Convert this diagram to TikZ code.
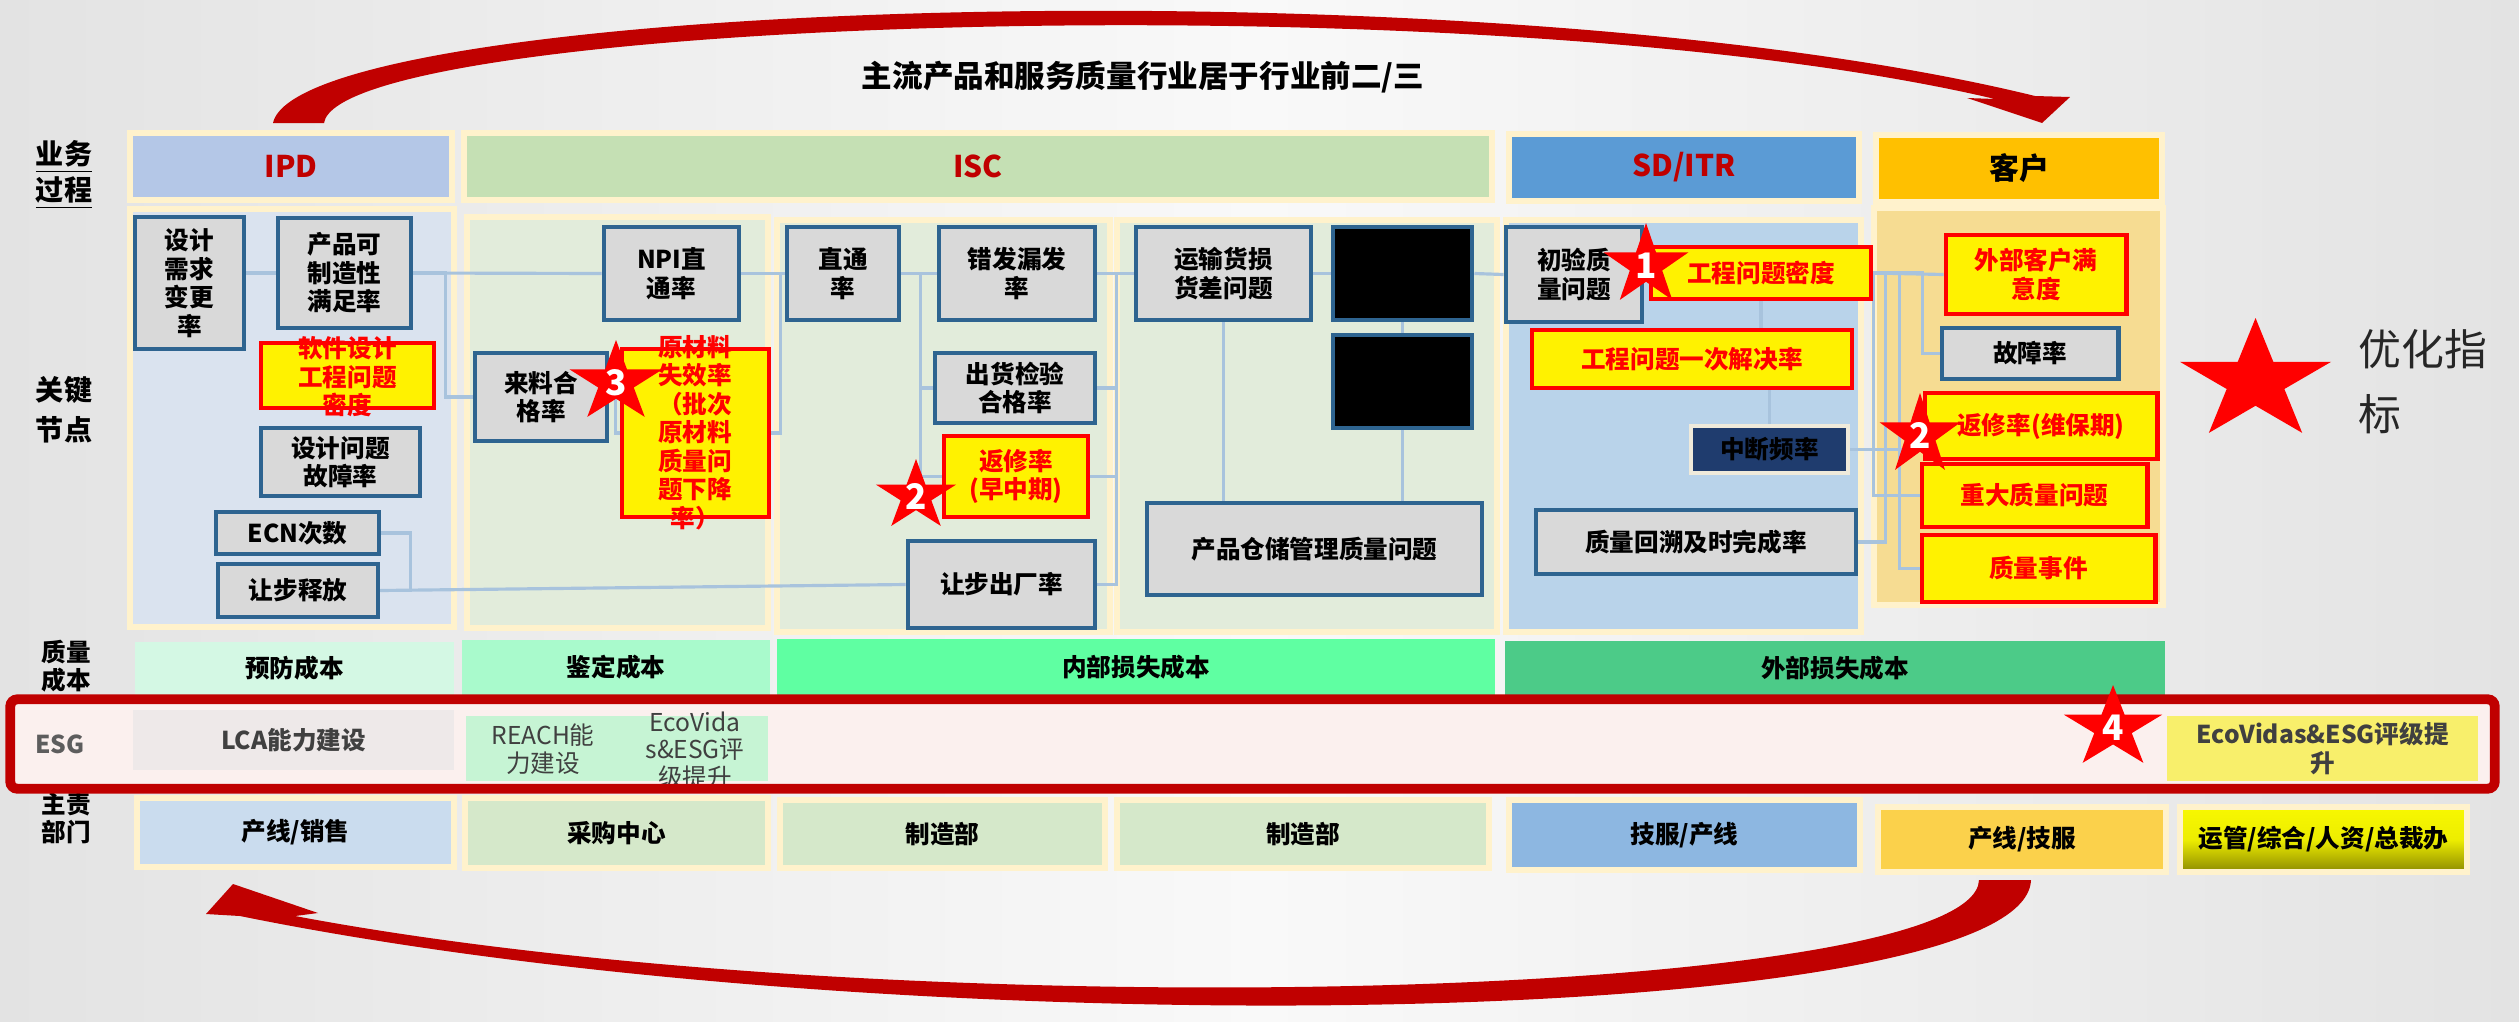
\documentclass[tikz,border=0pt]{standalone}
\usepackage{fontspec}
\setmainfont{Noto Sans CJK SC}
\usetikzlibrary{shapes.geometric}
\definecolor{cream}{HTML}{FFF2CC}
\definecolor{hdrred}{HTML}{C00000}
\definecolor{ipdblue}{HTML}{B4C7E7}
\definecolor{iscgreen}{HTML}{C5E0B4}
\definecolor{sdblue}{HTML}{5B9BD5}
\definecolor{custorange}{HTML}{FFC000}
\definecolor{ipdpanel}{HTML}{DAE3EF}
\definecolor{iscpanel}{HTML}{E2ECDB}
\definecolor{sdpanel}{HTML}{B9D3EA}
\definecolor{custpanel}{HTML}{F6DC92}
\definecolor{boxgray}{HTML}{D9D9D9}
\definecolor{boxedge}{HTML}{2E6490}
\definecolor{wireblue}{HTML}{A8C3DD}
\definecolor{navybox}{HTML}{1F3C6E}
\definecolor{navyedge}{HTML}{EFEADB}
\definecolor{costA}{HTML}{D4F8E4}
\definecolor{costB}{HTML}{A9FACC}
\definecolor{costC}{HTML}{5FFFA2}
\definecolor{costD}{HTML}{4CCB88}
\definecolor{esgred}{HTML}{C00000}
\definecolor{esgpink}{HTML}{FBF0EE}
\definecolor{lcagray}{HTML}{EEE9E9}
\definecolor{reachgreen}{HTML}{C6F4D4}
\definecolor{ecoyellow}{HTML}{F8EF6B}
\definecolor{esgtext}{HTML}{404040}
\definecolor{deptA}{HTML}{CADCEE}
\definecolor{deptB}{HTML}{D5E8CA}
\definecolor{deptC}{HTML}{8DB7E1}
\definecolor{deptD}{HTML}{FBD14B}
\definecolor{opsTop}{HTML}{F8F800}
\definecolor{opsBot}{HTML}{8C8B00}
\definecolor{arcred}{HTML}{C00000}
\definecolor{bgside}{HTML}{E3E3E3}
\definecolor{bgmid}{HTML}{F9F9F9}
\definecolor{legendgray}{HTML}{262626}
\newcommand{\boxfont}{\fontsize{7}{8.1}\selectfont\bfseries}
\newcommand{\hdrfont}{\fontsize{8.5}{10}\selectfont\bfseries}
\pgfdeclarelayer{back}
\pgfdeclarelayer{wires}
\pgfsetlayers{back,wires,main}

\begin{document}
\begin{tikzpicture}[
    x=0.1mm, y=-0.1mm,
    sz/.style 2 args={minimum width=#1*0.1mm, minimum height=#2*0.1mm},
    hdr/.style={draw=cream, line width=1.6pt, inner sep=0, font=\hdrfont},
    pnl/.style={draw=cream, line width=1.6pt, inner sep=0},
    gbox/.style={draw=boxedge, fill=boxgray, line width=1.4pt, inner sep=0, align=center, font=\boxfont},
    ybox/.style={draw=red, fill=yellow, line width=1.4pt, inner sep=0, align=center, text=red, font=\boxfont},
    ytext/.style={inner sep=0, align=center, text=red, font=\boxfont},
    cost/.style={inner sep=0, font=\boxfont},
    dept/.style={draw=cream, line width=1.6pt, inner sep=0, font=\boxfont},
    rowlbl/.style={inner sep=0, align=center, font=\fontsize{7}{8}\selectfont\bfseries},
    esgtxt/.style={inner sep=0, align=center, text=esgtext, font=\fontsize{7}{7.9}\selectfont},
    wire/.style={draw=wireblue, line width=0.9pt},
    rstar/.style={star, star points=5, star point ratio=2.618, fill=red, inner sep=0, minimum size=#1*0.1mm},
    stnum/.style={inner sep=0, text=white, font=\fontsize{10}{10}\selectfont\bfseries},
    swoosh/.style={fill=arcred}
]
\useasboundingbox (0,0) rectangle (2519,1021);

\begin{pgfonlayer}{back}
% background and lanes
\shade[left color=bgside, right color=bgside, middle color=bgmid] (0,0) rectangle (2519,1021);
\node[pnl, fill=ipdpanel, sz={324}{418}] (pIPD) at (292,418) {};
\node[pnl, fill=iscpanel, sz={301}{411}] (pISC1) at (617.5,422.5) {};
\node[pnl, fill=iscpanel, sz={333}{412}] (pISC2) at (943.5,426) {};
\node[pnl, fill=iscpanel, sz={380}{412}] (pISC3) at (1307,426) {};
\node[pnl, fill=sdpanel, sz={355}{412}] (pSD) at (1683.5,426) {};
\node[pnl, fill=custpanel, sz={289}{397}] (pCUS) at (2018.5,406.5) {};

% big red arrows
\fill[swoosh] (273,123) .. controls (300,0) and (1480,-40) .. (2035,96) -- (2070,97) -- (2042,123) -- (1967,98)
  -- (1995,99) .. controls (1480,-22) and (340,20) .. (324,123) -- cycle;
\fill[swoosh] (2031,880) .. controls (2025,1030) and (900,1050) .. (240,916) -- (206,914) -- (233,884) -- (318,913)
  -- (295,916) .. controls (900,1030) and (1975,1000) .. (1979,880) -- cycle;
\end{pgfonlayer}

\node[font=\fontsize{8.7}{10}\selectfont\bfseries] (title) at (1143,77) {主流产品和服务质量行业居于行业前二/三};

% row labels
\node[rowlbl, font=\fontsize{8}{10.2}\selectfont\bfseries] (lProc) at (64,175) {\underline{业务}\\\underline{过程}};
\node[rowlbl, font=\fontsize{8}{11.4}\selectfont\bfseries] (lKey) at (64,410) {关键\\节点};
\node[rowlbl] (lCost) at (66,666) {质量\\成本};
\node[rowlbl] (lDept) at (66,818) {主责\\部门};

% process headers
\node[hdr, fill=ipdblue, sz={322}{67}, text=hdrred] (hIPD) at (291,166.5) {IPD};
\node[hdr, fill=iscgreen, sz={1028}{67}, text=hdrred] (hISC) at (978,166.5) {ISC};
\node[hdr, fill=sdblue, sz={350}{67}, text=hdrred] (hSD) at (1684,167.5) {SD/ITR};
\node[hdr, fill=custorange, sz={286}{67}] (hCUS) at (2019,168.5) {客户};

% IPD nodes
\node[gbox, sz={109}{132}] (n_sjxq) at (189.5,283) {设计\\需求\\变更\\率};
\node[gbox, sz={133}{110}] (n_cpkz) at (344.5,273) {产品可\\制造性\\满足率};
\node[ybox, sz={173}{65}] (y_rj) at (347.5,375.5) {};
\node[ytext] (t_rj) at (347.5,377) {软件设计\\工程问题\\密度};
\node[gbox, sz={159}{68}] (n_sjgz) at (340.5,462) {设计问题\\故障率};
\node[gbox, sz={163}{42}] (n_ecn) at (297.5,533) {ECN次数};
\node[gbox, sz={160}{53}] (n_rbsf) at (298,590.5) {让步释放};

% ISC nodes
\node[gbox, sz={135}{93}] (n_npi) at (671.5,273.5) {NPI直\\通率};
\node[gbox, sz={132}{88}] (n_llhg) at (541,397) {来料合\\格率};
\node[ybox, sz={147}{168}] (y_ycl) at (695.5,433) {};
\node[ytext] (t_ycl) at (695,432.5) {原材料\\失效率\\（批次\\原材料\\质量问\\题下降\\率）};
\node[gbox, sz={112}{93}] (n_zt) at (843,273.5) {直通\\率};
\node[gbox, sz={156}{93}] (n_cfl) at (1017,273.5) {错发漏发\\率};
\node[gbox, sz={160}{70}] (n_chjy) at (1015,388) {出货检验\\合格率};
\node[ybox, sz={144}{81}] (y_fx1) at (1016,476.5) {返修率\\(早中期)};
\node[gbox, sz={187}{87}] (n_rbcc) at (1001.5,584.5) {让步出厂率};
\node[gbox, sz={175}{93}] (n_ys) at (1223.5,273.5) {运输货损\\货差问题};
\node[gbox, fill=black, sz={139}{93}] (n_blk1) at (1402.5,273.5) {};
\node[gbox, fill=black, sz={139}{93}] (n_blk2) at (1402.5,381.5) {};
\node[gbox, sz={335}{92}] (n_cc) at (1314.5,549) {产品仓储管理质量问题};

% SD/ITR nodes
\node[gbox, sz={136}{95}] (n_cy) at (1574,274.5) {初验质\\量问题};
\node[ybox, sz={220}{52}] (y_gcmd) at (1761,273) {工程问题密度};
\node[ybox, sz={320}{58}] (y_gcyc) at (1692,359) {工程问题一次解决率};
\node[gbox, draw=navyedge, fill=navybox, sz={157}{47}] (n_zd) at (1769.5,449.5) {中断频率};
\node[gbox, sz={320}{64}] (n_hs) at (1696,542) {质量回溯及时完成率};

% customer nodes
\node[ybox, sz={180}{79}] (y_wbkh) at (2036,274.5) {外部客户满\\意度};
\node[gbox, sz={176}{51}] (n_gzl) at (2030,353.5) {故障率};
\node[ybox, sz={232}{66}] (y_fx2) at (2041,426) {返修率(维保期)};
\node[ybox, sz={225}{63}] (y_zdzl) at (2034.5,495.5) {重大质量问题};
\node[ybox, sz={233}{67}] (y_zlsj) at (2038.5,568.5) {质量事件};

% connectors
\begin{pgfonlayer}{wires}
\draw[wire] (n_sjxq.east |- n_cpkz.west) -- (n_cpkz.west);
\draw[wire] (n_cpkz.east) -- (n_npi.west);
\draw[wire] (n_cpkz.east) -- ++(32,0) |- (n_llhg.west);
\draw[wire] (n_ecn.east) -- ++(29,0) |- (n_rbsf.east);
\draw[wire] (n_rbsf.east) -- (n_rbcc.west);
\draw[wire] (n_llhg.east) -- ++(6,0) |- (y_ycl.west);
\draw[wire] (n_npi.east) -- (n_zt.west);
\draw[wire] (y_ycl.east) -- ++(9,0) |- (n_zt.west);
\draw[wire] (n_zt.east) -- (n_cfl.west);
\draw[wire] (n_zt.east) -- ++(19,0) |- (n_chjy.west);
\draw[wire] (n_zt.east) -- ++(19,0) |- (y_fx1.west);
\draw[wire] (n_cfl.east) -- (n_ys.west);
\draw[wire] (n_cfl.east) -- ++(19,0) |- (n_rbcc.east);
\draw[wire] (n_cfl.east) -- ++(19,0) |- (n_chjy.east);
\draw[wire] (n_cfl.east) -- ++(19,0) |- (y_fx1.east);
\draw[wire] (n_ys.east) -- (n_blk1.west);
\draw[wire] (n_blk1.east) -- (n_cy.west);
\draw[wire] (n_ys.south) -- (n_ys.south |- n_cc.north);
\draw[wire] (n_blk1.south) -- (n_blk2.north);
\draw[wire] (n_blk2.south) -- (n_blk2.south |- n_cc.north);
\draw[wire] (y_gcmd.south) -- (y_gcmd.south |- y_gcyc.north);
\draw[wire] (n_zd.north) -- (n_zd.north |- y_gcyc.south);
\draw[wire] (y_gcmd.east) -- (y_wbkh.west);
\draw[wire] (y_gcmd.east) |- (y_zdzl.west);
\draw[wire] (y_gcmd.east) -- ++(12,0) |- (n_hs.east);
\draw[wire] (n_zd.east) -- (n_zd.east -| y_fx2.west);
\draw[wire] (y_gcmd.east) -- ++(26,0) |- (y_zlsj.west);
\draw[wire] (y_gcmd.east) -- ++(49,0) |- (n_gzl.west);
\end{pgfonlayer}

% quality cost row
\node[cost, fill=costA, sz={319}{53}] (cPre) at (294.5,668.5) {预防成本};
\node[cost, fill=costB, sz={308}{55}] (cApp) at (616,667.5) {鉴定成本};
\node[cost, fill=costC, sz={718}{56}] (cInt) at (1136,667) {内部损失成本};
\node[cost, fill=costD, sz={660}{54}] (cExt) at (1835,668) {外部损失成本};

% ESG row
\node[fill=esgpink, inner sep=0, sz={2483}{88}] (esgFr) at (1252.5,744) {};
\node[rowlbl, text=esgtext!85] (lESG) at (60,744) {ESG};
\node[fill=lcagray, inner sep=0, sz={321}{60}, text=esgtext, font=\boxfont] (eLCA) at (293.5,740) {LCA能力建设};
\node[fill=reachgreen, inner sep=0, sz={302}{65}] (eREACH) at (617,748.5) {};
\node[esgtxt] (tREACH) at (543,749) {REACH能\\力建设};
\node[esgtxt] (tEco) at (695,750) {EcoVida\\s\&ESG评\\级提升};
\node[fill=ecoyellow, inner sep=0, sz={311}{65}, align=center, text=esgtext, font=\boxfont] (eEco) at (2322.5,748.5) {EcoVidas\&ESG评级提\\升};
\draw[draw=esgred, line width=2.8pt, rounded corners=2pt] (esgFr.north west) rectangle (esgFr.south east);

% responsible departments
\node[dept, fill=deptA, sz={317}{69}] (dLine) at (295.5,832.5) {产线/销售};
\node[dept, fill=deptB, sz={303}{70}] (dBuy) at (616.5,833) {采购中心};
\node[dept, fill=deptB, sz={325}{68}] (dMfg1) at (942.5,834) {制造部};
\node[dept, fill=deptB, sz={372}{68}] (dMfg2) at (1303,834) {制造部};
\node[dept, fill=deptC, sz={351}{70}] (dSvc) at (1684.5,835) {技服/产线};
\node[dept, fill=deptD, sz={288}{65}] (dLS) at (2022,839.5) {产线/技服};
\node[dept, top color=opsTop, bottom color=opsBot, middle color=opsTop!90!opsBot, sz={287}{65}] (dOps) at (2323.5,839.5) {运管/综合/人资/总裁办};

% stars
\begin{scope}[shift={(1646,265.5)}, xscale=1.05]
  \node[rstar=85, transform shape] (st1) at (0,0) {};
\end{scope}
\node[stnum] (sn1) at (st1.center) {1};
\begin{scope}[shift={(916,496)}, xscale=1.14]
  \node[rstar=74, transform shape] (st2a) at (0,0) {};
\end{scope}
\node[stnum] (sn2a) at (st2a.center) {2};
\begin{scope}[shift={(616,382.5)}, xscale=1.15]
  \node[rstar=85, transform shape] (st3) at (0,0) {};
\end{scope}
\node[stnum] (sn3) at (st3.center) {3};
\begin{scope}[shift={(1920,435.5)}]
  \node[rstar=85, transform shape] (st2b) at (0,0) {};
\end{scope}
\node[stnum] (sn2b) at (st2b.center) {2};
\begin{scope}[shift={(2113,728)}, xscale=1.2]
  \node[rstar=86, transform shape] (st4) at (0,0) {};
\end{scope}
\node[stnum] (sn4) at (st4.center) {4};
\begin{scope}[shift={(2255.5,381.5)}, xscale=1.25]
  \node[rstar=127, transform shape] (stBig) at (0,0) {};
\end{scope}
\node[anchor=west, align=left, inner sep=0, text=legendgray, font=\fontsize{12.2}{18.4}\selectfont] (legTxt) at (2358,382) {优化指\\标};
\end{tikzpicture}
\end{document}
